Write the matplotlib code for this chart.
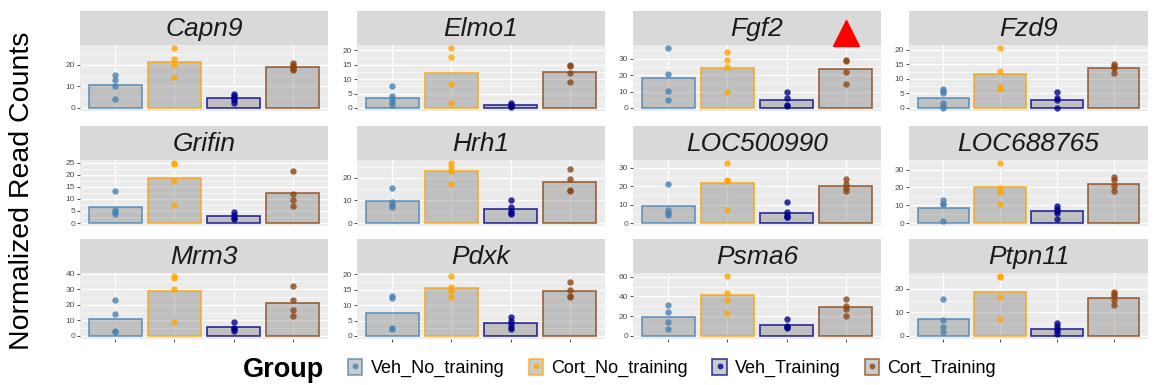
import matplotlib
matplotlib.use("Agg")
import matplotlib.pyplot as plt
import numpy as np
from matplotlib.colors import to_rgba
from matplotlib.lines import Line2D
from matplotlib.patches import Patch
from matplotlib.legend_handler import HandlerTuple
from matplotlib.transforms import blended_transform_factory

plt.rcParams["font.family"] = ["Liberation Sans", "DejaVu Sans"]

genes = ["Capn9", "Elmo1", "Fgf2", "Fzd9", "Grifin", "Hrh1",
         "LOC500990", "LOC688765", "Mrm3", "Pdxk", "Psma6", "Ptpn11"]
groups = ["Veh_No_training", "Cort_No_training", "Veh_Training", "Cort_Training"]
group_colors = ["#4682B4", "#FFA500", "#00008B", "#8B4513"]

# normalized read counts per sample, one list per gene (same order as genes)
veh_no_training = [
    [15.3, 13.0, 10.2, 4.0],
    [7.8, 4.0, 3.2, 2.0, 1.0],
    [36.5, 20.7, 10.3, 4.7],
    [6.6, 5.8, 5.0, 1.6, 0.8, 0.0],
    [13.1, 5.5, 4.6, 3.8],
    [15.3, 9.2, 8.0, 7.2],
    [20.9, 6.8, 5.5, 4.3],
    [13.1, 10.4, 10.4, 0.9],
    [23.4, 14.3, 3.4, 2.5],
    [13.0, 12.2, 2.6, 2.4],
    [31.0, 24.0, 14.0, 7.3],
    [15.7, 6.7, 4.0, 1.7],
]
cort_no_training = [
    [27.9, 22.9, 20.0, 14.3],
    [20.8, 17.6, 8.3, 1.7],
    [33.9, 29.0, 25.2, 9.9],
    [20.6, 12.8, 7.3, 6.6],
    [24.9, 24.3, 17.5, 7.4],
    [26.6, 24.8, 23.1, 17.4],
    [32.5, 23.2, 23.0, 7.3],
    [33.7, 19.8, 17.6, 10.9],
    [38.5, 37.1, 29.9, 9.1],
    [19.4, 16.0, 14.4, 12.6],
    [60.7, 43.7, 36.3, 23.7],
    [25.5, 25.2, 16.6, 7.4],
]
veh_training = [
    [6.7, 5.6, 4.8, 3.5, 2.5],
    [1.8, 1.2, 0.6, 0.2],
    [9.7, 5.9, 2.0, 1.2],
    [5.5, 3.4, 2.6, 0.0],
    [4.6, 3.4, 2.2, 1.5],
    [10.1, 6.9, 5.2, 4.3, 3.8],
    [11.3, 6.1, 4.2, 3.4, 3.3],
    [9.8, 8.0, 7.0, 5.8, 2.4],
    [8.8, 5.0, 4.8, 3.4],
    [6.1, 5.0, 4.0, 3.0, 2.4],
    [17.0, 10.3, 8.7, 8.0],
    [5.4, 4.3, 3.1, 2.0, 0.9],
]
cort_training = [
    [20.8, 19.8, 19.0, 18.2, 17.6],
    [14.7, 14.9, 12.0, 9.0],
    [29.0, 28.5, 22.1, 14.6],
    [15.0, 14.4, 13.9, 12.1],
    [21.6, 12.2, 9.6, 7.0],
    [23.9, 19.7, 14.8, 14.0],
    [24.1, 20.9, 19.1, 17.1],
    [25.6, 24.1, 20.7, 18.1],
    [32.4, 23.2, 16.6, 12.6],
    [17.4, 14.9, 13.0, 12.6],
    [37.3, 30.0, 27.7, 20.7],
    [18.7, 17.7, 16.9, 15.2, 13.0],
]
y_breaks = [
    [0, 10, 20], [0, 5, 10, 15, 20], [0, 10, 20, 30], [0, 5, 10, 15, 20],
    [0, 5, 10, 15, 20, 25], [0, 10, 20], [0, 10, 20, 30], [0, 10, 20, 30],
    [0, 10, 20, 30, 40], [0, 5, 10, 15, 20], [0, 20, 40, 60], [0, 10, 20],
]
flagged_gene = "Fgf2"

series = [veh_no_training, cort_no_training, veh_training, cort_training]

W, H = 1155, 385
fig = plt.figure(figsize=(W / 100, H / 100), dpi=100)

col_left = [80, 357, 633, 909]
panel_w = 248
row_top = [11, 126, 239]
strip_h = 34
panel_h = 66


def px_rect(x, y, w, h):
    return [x / W, 1 - (y + h) / H, w / W, h / H]


for i, gene in enumerate(genes):
    r, c = divmod(i, 4)
    x0 = col_left[c]
    w = panel_w if c < 3 else 239
    sax = fig.add_axes(px_rect(x0, row_top[r], w, strip_h))
    sax.set_facecolor("#D9D9D9")
    sax.set_xticks([])
    sax.set_yticks([])
    for s in sax.spines.values():
        s.set_visible(False)
    sax.text(0.5, 0.47, gene, ha="center", va="center", fontsize=19,
             style="italic", color="#1A1A1A", transform=sax.transAxes)

    ax = fig.add_axes(px_rect(x0, row_top[r] + strip_h, w, panel_h))
    ax.set_facecolor("#EBEBEB")
    for s in ax.spines.values():
        s.set_visible(False)

    ymax = max(max(g[i]) for g in series)
    lo, hi = -0.05 * ymax, 1.05 * ymax
    ax.set_ylim(lo, hi)
    ax.set_xlim(0.4, 4.6)

    majors = y_breaks[i]
    step = majors[1] - majors[0]
    minors = [m + step / 2 for m in [majors[0] - step] + majors if lo < m + step / 2 < hi]
    for m in minors:
        ax.axhline(m, color="white", lw=0.45, zorder=0.5)
    for m in majors:
        ax.axhline(m, color="white", lw=0.9, zorder=0.6)
    for k in range(4):
        ax.axvline(k + 1, color="white", lw=0.9, zorder=0.6)

    for k, (vals, col) in enumerate(zip(series, group_colors)):
        pts = np.array(vals[i])
        ax.bar(k + 1, pts.mean(), width=0.9,
               facecolor=to_rgba("#7F7F7F", 0.4),
               edgecolor=to_rgba(col, 0.75), linewidth=1.3, zorder=2)
        ax.plot(np.full(len(pts), k + 1), pts, "o", color=col, alpha=0.8,
                ms=4.6, mec="none", zorder=3)

    ax.set_yticks(majors)
    ax.set_yticklabels([str(m) for m in majors])
    ax.tick_params(axis="y", length=2, width=0.6, color="#333333",
                   labelsize=6, labelcolor="#4D4D4D", pad=1.5)
    if r == 2:
        ax.set_xticks([1, 2, 3, 4])
        ax.set_xticklabels([])
        ax.tick_params(axis="x", length=2, width=0.6, color="#333333")
    else:
        ax.set_xticks([])

    if gene == flagged_gene:
        tr = blended_transform_factory(ax.transData, ax.transAxes)
        ax.plot(4, 1 + 12 / panel_h, marker="^", ms=19, color="red",
                transform=tr, clip_on=False, zorder=5)

fig.text(22 / W, 1 - 191 / H, "Normalized Read Counts", rotation=90,
         ha="center", va="center", fontsize=20.5, color="black")

handles = []
for col in group_colors:
    patch = Patch(facecolor=to_rgba("#7F7F7F", 0.4), edgecolor=to_rgba(col, 0.75), linewidth=1.2)
    dot = Line2D([], [], marker="o", ls="none", color=col, alpha=0.8, ms=4.2, mec="none")
    handles.append((patch, dot))

fig.text(243 / W, 1 - 370 / H, "Group", fontsize=19.5, fontweight="bold",
         ha="left", va="center")
fig.legend(handles, groups, handler_map={tuple: HandlerTuple(ndivide=1)},
           ncol=4, loc="center left", bbox_to_anchor=(339 / W, 1 - 368 / H),
           frameon=False, fontsize=13, handlelength=0.8, handleheight=1.0,
           handletextpad=0.45, columnspacing=1.35, borderpad=0)

fig.savefig("out.png", dpi=100)
